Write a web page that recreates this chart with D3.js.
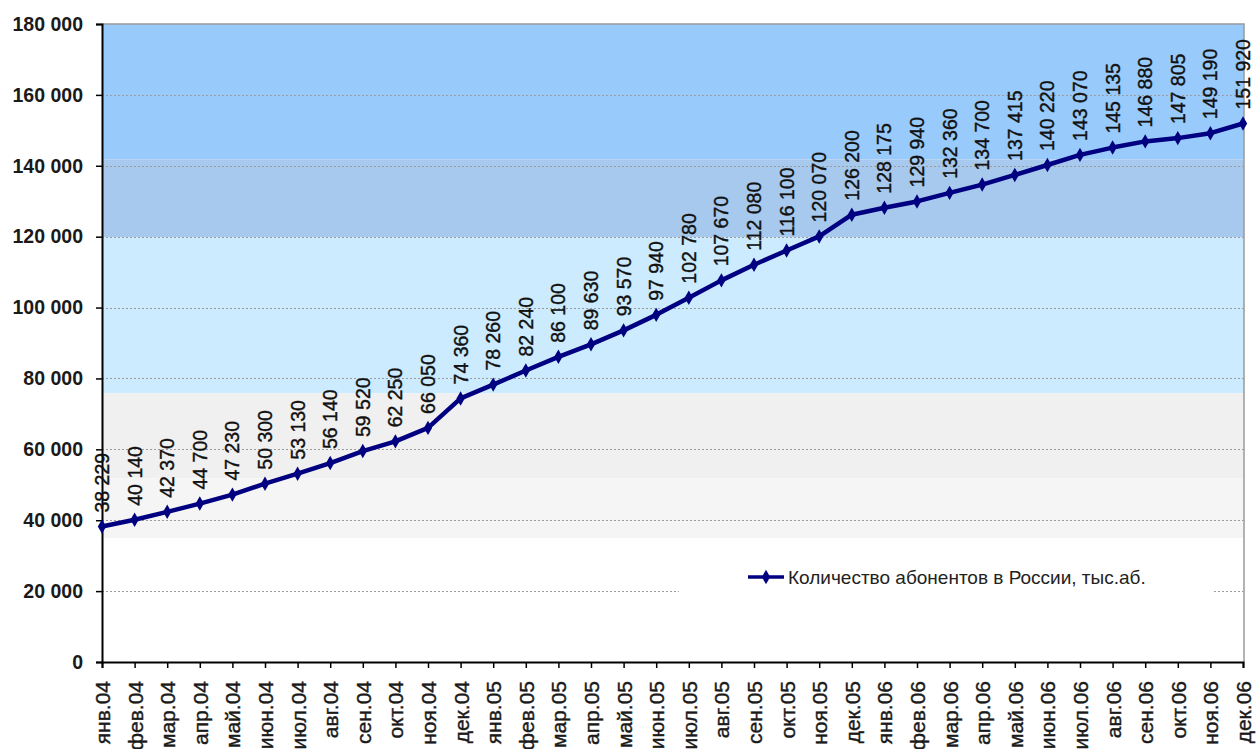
<!DOCTYPE html>
<html>
<head>
<meta charset="utf-8">
<script src="https://cdn.jsdelivr.net/npm/d3@7/dist/d3.min.js"></script>
<style>
  html, body { margin: 0; padding: 0; background: #fff; }
  svg { display: block; font-family: "Liberation Sans", Arial, sans-serif; }
</style>
</head>
<body>
<svg id="chart" width="1256" height="749"></svg>
<script>
const months = ["янв.04","фев.04","мар.04","апр.04","май.04","июн.04","июл.04","авг.04","сен.04","окт.04","ноя.04","дек.04",
                "янв.05","фев.05","мар.05","апр.05","май.05","июн.05","июл.05","авг.05","сен.05","окт.05","ноя.05","дек.05",
                "янв.06","фев.06","мар.06","апр.06","май.06","июн.06","июл.06","авг.06","сен.06","окт.06","ноя.06","дек.06"];
const subscribers = [38229, 40140, 42370, 44700, 47230, 50300, 53130, 56140, 59520, 62250, 66050, 74360,
                     78260, 82240, 86100, 89630, 93570, 97940, 102780, 107670, 112080, 116100, 120070, 126200,
                     128175, 129940, 132360, 134700, 137415, 140220, 143070, 145135, 146880, 147805, 149190, 151920];
const yTicks = [0, 20000, 40000, 60000, 80000, 100000, 120000, 140000, 160000, 180000];
const seriesName = "Количество абонентов в России, тыс.аб.";
// background picture bands (value ranges)
const bandFrom = [180000, 141800, 119800, 75800, 51800];
const bandTo   = [141800, 119800, 75800, 51800, 35000];
const bandColor = ["#99CAFC", "#A7C9EE", "#CCEBFE", "#F0F0F0", "#F5F5F5"];

const svg = d3.select("#chart");
const L = 102, R = 1243, T = 24, B = 662;

const x = d3.scalePoint().domain(months).range([L, R]).padding(0);
const y = d3.scaleLinear().domain([0, 180000]).range([B, T]);
const fmt = v => d3.format(",")(v).replace(/,/g, " ");

// background bands
svg.append("g").selectAll("rect").data(bandFrom).join("rect")
  .attr("x", L).attr("width", R + 1 - L)
  .attr("y", (d) => y(d))
  .attr("height", (d, i) => y(bandTo[i]) - y(d))
  .attr("fill", (d, i) => bandColor[i]);

// plot border (top/right)
svg.append("path")
  .attr("d", `M${L},${T}H${R + 1}V${B}`)
  .attr("fill", "none").attr("stroke", "#9a9a9a").attr("stroke-width", 1.5);

// gridlines
svg.append("g").selectAll("line").data(yTicks.filter(v => v > 0 && v < 180000)).join("line")
  .attr("x1", L).attr("x2", R + 1)
  .attr("y1", d => Math.round(y(d)) + 0.5).attr("y2", d => Math.round(y(d)) + 0.5)
  .attr("stroke", "#9c9c9c").attr("stroke-width", 1.2).attr("stroke-dasharray", "2,2");

// legend box (white, covers gridline)
const legend = svg.append("g");
legend.append("rect").attr("x", 679).attr("y", y(34400)).attr("width", 534).attr("height", y(6000) - y(34400))
  .attr("fill", "#ffffff");

// axes
const yAxis = d3.axisLeft(y).tickValues(yTicks).tickSize(6).tickFormat(fmt);
const gy = svg.append("g").attr("transform", `translate(${L},0)`).call(yAxis);
gy.select(".domain").attr("stroke", "#000").attr("stroke-width", 2);
gy.selectAll(".tick line").attr("stroke", "#000").attr("stroke-width", 1.5);
gy.selectAll(".tick text").attr("x", -19).attr("font-size", "19.5px").attr("font-weight", "bold")
  .attr("fill", "#1a1a1a").attr("font-family", "'Liberation Sans', Arial, sans-serif");

const xAxis = d3.axisBottom(x).tickSize(6);
const gx = svg.append("g").attr("transform", `translate(0,${B})`).call(xAxis);
gx.select(".domain").attr("stroke", "#000").attr("stroke-width", 2);
gx.selectAll(".tick line").attr("stroke", "#000").attr("stroke-width", 1.5);
gx.selectAll(".tick text")
  .attr("transform", "rotate(-90)")
  .attr("x", -19).attr("y", 0).attr("dy", "0.36em")
  .attr("text-anchor", "end")
  .attr("font-size", "21px").attr("fill", "#1a1a1a")
  .attr("stroke", "#1a1a1a").attr("stroke-width", 0.4)
  .attr("font-family", "'Liberation Sans', Arial, sans-serif");

// line
const line = d3.line().x((d, i) => x(months[i])).y(d => y(d));
svg.append("path").datum(subscribers)
  .attr("d", line).attr("fill", "none")
  .attr("stroke", "#000080").attr("stroke-width", 4.5).attr("stroke-linejoin", "round");

const diamond = d3.symbol().type(d3.symbolDiamond).size(60);
svg.append("g").selectAll("path").data(subscribers).join("path")
  .attr("d", diamond)
  .attr("transform", (d, i) => `translate(${x(months[i])},${y(d)})`)
  .attr("fill", "#000080");

// data labels
svg.append("g").selectAll("text").data(subscribers).join("text")
  .attr("transform", (d, i) => `translate(${x(months[i])},${y(d) - 14}) rotate(-90)`)
  .attr("dy", "0.36em")
  .attr("text-anchor", "start")
  .attr("font-size", "19.5px")
  .attr("fill", "#111").attr("stroke", "#111").attr("stroke-width", 0.4)
  .text(d => fmt(d));

// legend content
const ly = 577;
legend.append("line").attr("x1", 748).attr("x2", 784).attr("y1", ly).attr("y2", ly)
  .attr("stroke", "#000080").attr("stroke-width", 3.5);
legend.append("path").attr("d", diamond).attr("transform", `translate(766,${ly})`).attr("fill", "#000080");
legend.append("text").attr("x", 788).attr("y", ly).attr("dy", "0.36em")
  .attr("font-size", "19px").attr("fill", "#222").text(seriesName);
</script>
</body>
</html>
